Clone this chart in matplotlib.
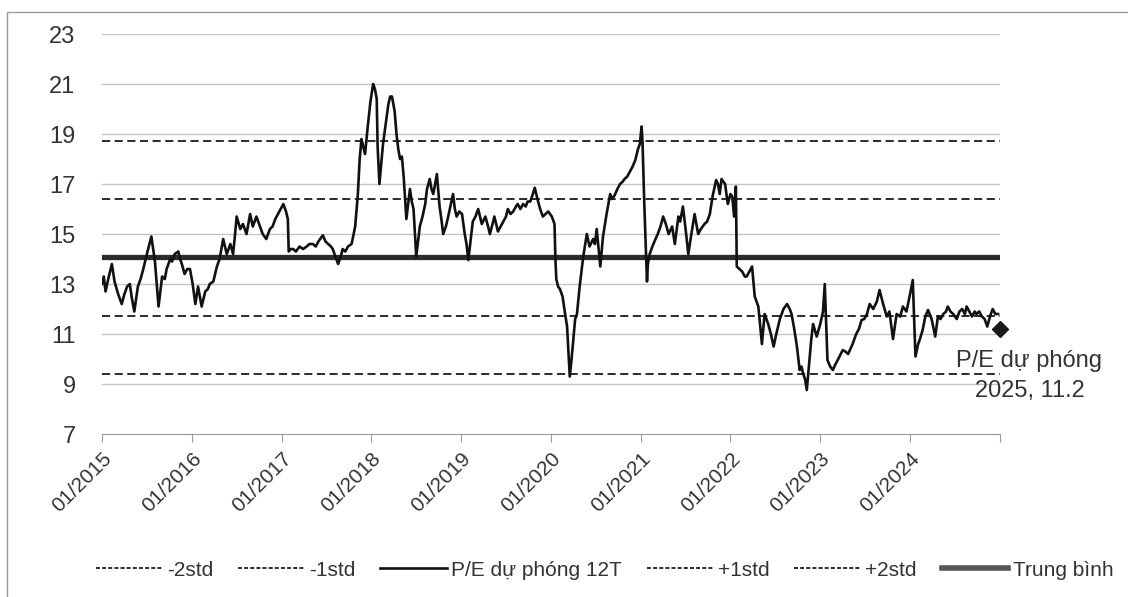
import matplotlib
matplotlib.use('Agg')
import matplotlib.pyplot as plt
from matplotlib.lines import Line2D
from matplotlib.patches import Rectangle

plt.rcParams['font.family'] = ['Liberation Sans', 'DejaVu Sans']

# weekly-ish P/E readings, x in decimal years
years = [
    2015.00, 2015.02, 2015.04, 2015.07, 2015.11, 2015.14, 2015.18, 2015.22, 2015.25, 2015.28,
    2015.31, 2015.33, 2015.36, 2015.40, 2015.43, 2015.46, 2015.50, 2015.55, 2015.57, 2015.59,
    2015.63, 2015.67, 2015.70, 2015.72, 2015.76, 2015.78, 2015.81, 2015.85, 2015.87, 2015.89,
    2015.92, 2015.95, 2015.98, 2016.01, 2016.04, 2016.07, 2016.09, 2016.11, 2016.15, 2016.18,
    2016.20, 2016.24, 2016.28, 2016.31, 2016.35, 2016.39, 2016.43, 2016.46, 2016.48, 2016.50,
    2016.54, 2016.57, 2016.61, 2016.65, 2016.68, 2016.72, 2016.76, 2016.79, 2016.83, 2016.87,
    2016.90, 2016.93, 2016.96, 2017.02, 2017.05, 2017.07, 2017.08, 2017.10, 2017.13, 2017.16,
    2017.20, 2017.24, 2017.28, 2017.31, 2017.35, 2017.38, 2017.41, 2017.46, 2017.49, 2017.52,
    2017.55, 2017.57, 2017.60, 2017.63, 2017.66, 2017.68, 2017.71, 2017.74, 2017.78, 2017.82,
    2017.85, 2017.87, 2017.89, 2017.91, 2017.93, 2017.96, 2017.99, 2018.02, 2018.04, 2018.06,
    2018.07, 2018.09, 2018.11, 2018.13, 2018.16, 2018.19, 2018.21, 2018.23, 2018.26, 2018.28,
    2018.30, 2018.32, 2018.34, 2018.36, 2018.39, 2018.41, 2018.43, 2018.45, 2018.47, 2018.50,
    2018.54, 2018.57, 2018.60, 2018.62, 2018.65, 2018.67, 2018.69, 2018.73, 2018.76, 2018.78,
    2018.80, 2018.83, 2018.85, 2018.88, 2018.91, 2018.93, 2018.95, 2018.98, 2019.01, 2019.04,
    2019.06, 2019.08, 2019.11, 2019.13, 2019.16, 2019.19, 2019.23, 2019.27, 2019.30, 2019.32,
    2019.35, 2019.37, 2019.41, 2019.44, 2019.47, 2019.50, 2019.52, 2019.55, 2019.58, 2019.61,
    2019.63, 2019.66, 2019.69, 2019.72, 2019.74, 2019.77, 2019.79, 2019.82, 2019.85, 2019.88,
    2019.91, 2019.94, 2019.97, 2020.01, 2020.04, 2020.05, 2020.06, 2020.08, 2020.10, 2020.13,
    2020.15, 2020.18, 2020.21, 2020.23, 2020.25, 2020.27, 2020.29, 2020.32, 2020.36, 2020.40,
    2020.43, 2020.47, 2020.49, 2020.51, 2020.55, 2020.58, 2020.62, 2020.66, 2020.68, 2020.71,
    2020.74, 2020.77, 2020.80, 2020.82, 2020.85, 2020.88, 2020.91, 2020.94, 2020.97, 2020.99,
    2021.01, 2021.02, 2021.04, 2021.07, 2021.08, 2021.10, 2021.13, 2021.16, 2021.19, 2021.22,
    2021.25, 2021.28, 2021.31, 2021.35, 2021.38, 2021.42, 2021.44, 2021.47, 2021.50, 2021.53,
    2021.56, 2021.60, 2021.62, 2021.64, 2021.67, 2021.71, 2021.74, 2021.77, 2021.80, 2021.84,
    2021.86, 2021.88, 2021.90, 2021.94, 2021.97, 2022.00, 2022.02, 2022.04, 2022.06, 2022.07,
    2022.10, 2022.13, 2022.16, 2022.18, 2022.21, 2022.24, 2022.27, 2022.31, 2022.35, 2022.38,
    2022.42, 2022.45, 2022.48, 2022.51, 2022.55, 2022.59, 2022.63, 2022.66, 2022.68, 2022.71,
    2022.74, 2022.77, 2022.79, 2022.81, 2022.83, 2022.85, 2022.88, 2022.90, 2022.92, 2022.96,
    2023.00, 2023.03, 2023.05, 2023.08, 2023.11, 2023.14, 2023.17, 2023.20, 2023.25, 2023.28,
    2023.31, 2023.36, 2023.40, 2023.43, 2023.46, 2023.49, 2023.52, 2023.55, 2023.59, 2023.63,
    2023.66, 2023.70, 2023.74, 2023.77, 2023.81, 2023.85, 2023.89, 2023.92, 2023.96, 2024.00,
    2024.03, 2024.06, 2024.09, 2024.11, 2024.14, 2024.17, 2024.20, 2024.24, 2024.28, 2024.31,
    2024.34, 2024.37, 2024.40, 2024.42, 2024.45, 2024.48, 2024.52, 2024.55, 2024.58, 2024.61,
    2024.63, 2024.66, 2024.69, 2024.72, 2024.74, 2024.77, 2024.80, 2024.83, 2024.86, 2024.89,
    2024.92, 2024.95, 2024.98,
]
pe = [
    13.0, 13.3, 12.7, 13.2, 13.8, 13.1, 12.6, 12.2, 12.6, 12.9,
    13.0, 12.5, 11.9, 12.9, 13.2, 13.6, 14.2, 14.9, 14.4, 13.9,
    12.1, 13.3, 13.2, 13.6, 14.0, 13.9, 14.2, 14.3, 14.0, 13.8,
    13.4, 13.6, 13.6, 13.0, 12.2, 12.9, 12.5, 12.1, 12.7, 12.8,
    13.0, 13.1, 13.7, 14.0, 14.8, 14.2, 14.6, 14.2, 14.9, 15.7,
    15.2, 15.4, 15.0, 15.8, 15.3, 15.7, 15.3, 15.0, 14.8, 15.2,
    15.3, 15.6, 15.8, 16.2, 15.9, 15.6, 14.3, 14.4, 14.4, 14.3,
    14.5, 14.4, 14.5, 14.6, 14.6, 14.5, 14.7, 14.95, 14.7, 14.6,
    14.5, 14.4, 14.1, 13.8, 14.1, 14.4, 14.3, 14.5, 14.6, 15.3,
    16.6, 18.0, 18.8, 18.5, 18.2, 19.3, 20.3, 21.0, 20.8, 20.4,
    18.5, 17.0, 17.8, 18.6, 19.4, 20.2, 20.5, 20.5, 19.9, 19.0,
    18.4, 18.0, 18.1, 17.3, 15.6, 16.2, 16.8, 16.3, 16.0, 14.1,
    15.3, 15.7, 16.2, 16.8, 17.2, 16.8, 16.6, 17.4, 16.1, 15.6,
    15.0, 15.3, 15.6, 16.1, 16.6, 16.0, 15.7, 15.9, 15.8, 15.0,
    14.6, 13.96, 14.9, 15.5, 15.7, 16.0, 15.4, 15.7, 15.3, 15.0,
    15.4, 15.7, 15.1, 15.3, 15.5, 15.7, 16.0, 15.8, 15.9, 16.1,
    16.2, 16.0, 16.2, 16.1, 16.3, 16.3, 16.5, 16.85, 16.4, 16.0,
    15.7, 15.8, 15.9, 15.7, 15.4, 14.0, 13.2, 12.9, 12.8, 12.5,
    12.0, 11.3, 9.3, 10.0, 10.8, 11.6, 11.8, 12.9, 14.1, 15.0,
    14.5, 14.8, 14.6, 15.2, 13.7, 14.9, 15.8, 16.6, 16.4, 16.55,
    16.8, 17.0, 17.1, 17.2, 17.3, 17.5, 17.7, 17.96, 18.4, 18.6,
    19.3, 18.7, 16.2, 13.1, 13.8, 14.2, 14.5, 14.76, 15.0, 15.3,
    15.7, 15.4, 15.0, 15.3, 14.6, 15.7, 15.5, 16.1, 15.2, 14.2,
    14.9, 15.8, 15.4, 15.0, 15.2, 15.4, 15.5, 15.8, 16.5, 17.16,
    17.0, 16.6, 17.2, 17.0, 16.2, 16.6, 16.5, 15.7, 16.9, 13.7,
    13.6, 13.5, 13.3, 13.3, 13.5, 13.7, 12.5, 12.1, 10.6, 11.8,
    11.4, 11.0, 10.5, 11.0, 11.6, 12.0, 12.2, 12.0, 11.8, 11.2,
    10.5, 9.56, 9.7, 9.4, 9.2, 8.76, 9.96, 10.8, 11.4, 10.9,
    11.4, 11.9, 13.0, 9.96, 9.7, 9.56, 9.8, 10.0, 10.36, 10.3,
    10.2, 10.6, 11.0, 11.2, 11.56, 11.6, 11.8, 12.2, 12.0, 12.3,
    12.76, 12.2, 11.7, 11.9, 10.8, 11.8, 11.7, 12.1, 11.9, 12.6,
    13.16, 10.1, 10.6, 10.8, 11.16, 11.7, 11.96, 11.6, 10.9, 11.7,
    11.6, 11.8, 11.9, 12.1, 11.9, 11.8, 11.6, 11.9, 12.0, 11.8,
    12.1, 11.9, 11.7, 11.9, 11.8, 11.9, 11.7, 11.6, 11.3, 11.7,
    12.0, 11.8, 11.8,
]

mean_pe = 14.07
std_pe = 2.33
forecast_x = 2025.0
forecast_pe = 11.2

tick_years = list(range(2015, 2026))
tick_labels = ['01/%d' % y for y in range(2015, 2025)] + ['']

fig = plt.figure(figsize=(11.28, 5.97), dpi=100)
ax = fig.add_axes([0.0904, 0.273, 0.796, 0.670])

dash = (0, (4.5, 2.5))
ax.axhline(mean_pe - 2 * std_pe, color='#1a1a1a', lw=1.3, ls=dash, zorder=3)
ax.axhline(mean_pe - std_pe, color='#1a1a1a', lw=1.3, ls=dash, zorder=3)
ax.axhline(mean_pe + std_pe, color='#1a1a1a', lw=1.3, ls=dash, zorder=3)
ax.axhline(mean_pe + 2 * std_pe, color='#1a1a1a', lw=1.3, ls=dash, zorder=3)
ax.axhline(mean_pe, color='#2b2b2b', lw=3.8, zorder=3)
ax.plot(years, pe, color='#111111', lw=1.9, zorder=4)
ax.plot([forecast_x], [forecast_pe], marker='D', color='#1a1a1a', ms=8, zorder=5, clip_on=False)
ax.text(2025.33, 9.32, 'P/E dự phóng\n2025, 11.2', ha='center', va='center',
        fontsize=17, color='#333333', linespacing=1.45, clip_on=False)

ax.set_xlim(2015, 2025)
ax.set_ylim(7, 23)
ax.set_yticks(range(7, 24, 2))
ax.set_xticks(tick_years)
ax.set_xticklabels(tick_labels, rotation=45, ha='right', va='top', rotation_mode='anchor',
                   fontsize=15, color='#333333')
for y in range(9, 24, 2):
    ax.axhline(y, color='#c4c4c4', lw=1.0, zorder=1)

for s in ['top', 'right', 'left']:
    ax.spines[s].set_visible(False)
ax.spines['bottom'].set_color('#9a9a9a')
ax.tick_params(axis='y', length=0, pad=19, labelsize=17, labelcolor='#333333')
ax.tick_params(axis='x', length=6, color='#9a9a9a', pad=5)

fine = (0, (2.2, 1.2))
handles = [
    Line2D([], [], color='#1a1a1a', lw=1.3, ls=fine),
    Line2D([], [], color='#1a1a1a', lw=1.3, ls=fine),
    Line2D([], [], color='#111111', lw=1.9),
    Line2D([], [], color='#1a1a1a', lw=1.3, ls=fine),
    Line2D([], [], color='#1a1a1a', lw=1.3, ls=fine),
    Line2D([], [], color='#555555', lw=4),
]
labels = ['-2std', '-1std', 'P/E dự phóng 12T', '+1std', '+2std', 'Trung bình']
fig.legend(handles, labels, loc='center', bbox_to_anchor=(0.536, 0.045), ncol=6,
           frameon=False, fontsize=15, handlelength=3.2, handletextpad=0.2,
           columnspacing=1.2, labelcolor='#333333')

fig.add_artist(Rectangle((0.0062, -0.05), 1.1, 1.05 - 12 / 597, transform=fig.transFigure,
                         fill=False, edgecolor='#9a9a9a', lw=1.0))

fig.savefig('out.png', dpi=100)
